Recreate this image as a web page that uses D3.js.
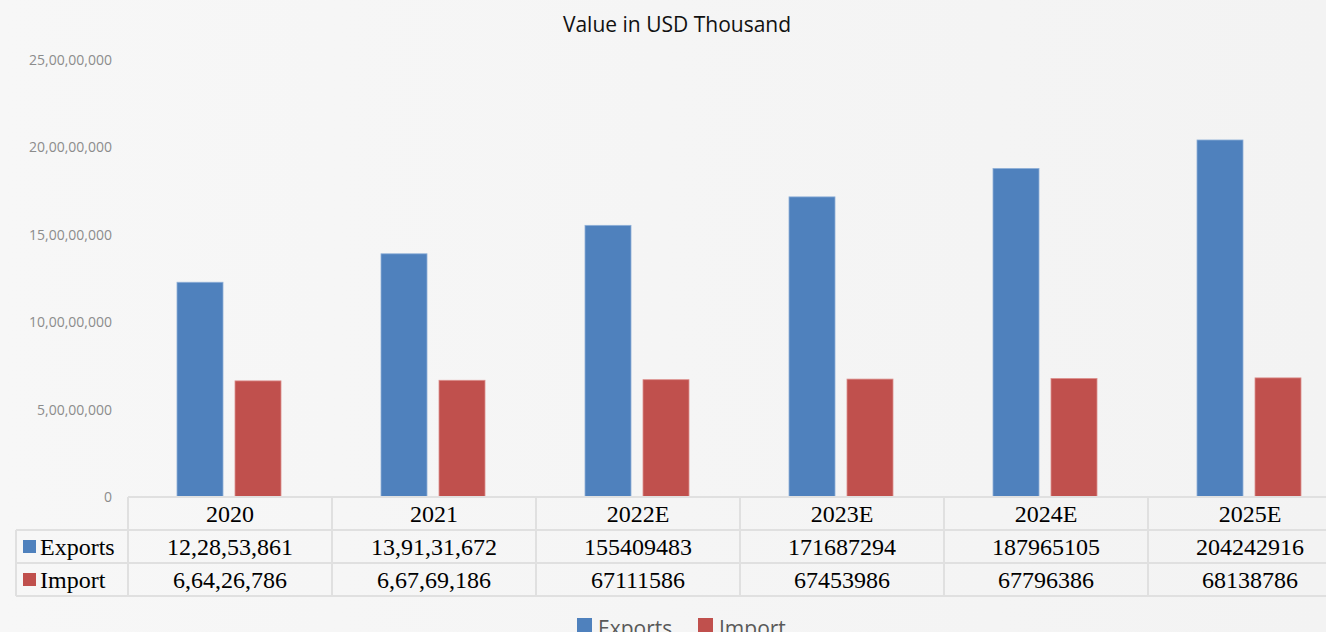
<!DOCTYPE html>
<html>
<head>
	<meta charset="utf-8">
	<title>Value in USD Thousand</title>
	<script src="https://d3js.org/d3.v7.min.js"></script>
	<style>
		html, body { margin: 0; padding: 0; overflow: hidden; }
	</style>
</head>
<body>
	<div class="chart"></div>

	<script type="text/javascript">
		var categories = ['2020', '2021', '2022E', '2023E', '2024E', '2025E']
		var exportsData = [122853861, 139131672, 155409483, 171687294, 187965105, 204242916]
		var importData = [66426786, 66769186, 67111586, 67453986, 67796386, 68138786]
		var seriesNames = ['Exports', 'Import']
		var yTicks = [0, 50000000, 100000000, 150000000, 200000000, 250000000]

		var colors = ['#4f81bd', '#c0504d']
		var width = 1326
		var height = 632

		// indian grouping: 12,28,53,861
		function indian(n) {
			var s = String(Math.round(n))
			if (s.length <= 3) return s
			var last = s.slice(-3)
			var rest = s.slice(0, -3)
			rest = rest.replace(/\B(?=(\d{2})+(?!\d))/g, ',')
			return rest + ',' + last
		}
		// actual years shown grouped, estimates shown raw
		function cellText(v, cat) {
			return cat.indexOf('E') >= 0 ? String(v) : indian(v)
		}

		var svg = d3.select('.chart')
			.append('svg')
			.attr('width', width)
			.attr('height', height)

		var grad = svg.append('defs').append('linearGradient')
			.attr('id', 'bg').attr('x1', 0).attr('x2', 1).attr('y1', 0).attr('y2', 0)
		grad.append('stop').attr('offset', 0).attr('stop-color', '#f7f7f7')
		grad.append('stop').attr('offset', 1).attr('stop-color', '#f3f3f3')
		svg.append('rect').attr('width', width).attr('height', height).attr('fill', 'url(#bg)')

		// title
		svg.append('text')
			.attr('x', 677)
			.attr('y', 32)
			.attr('text-anchor', 'middle')
			.style('font-family', '"Open Sans", "Noto Sans", sans-serif')
			.style('font-size', '21px')
			.style('fill', '#111')
			.text('Value in USD Thousand')

		var plotLeft = 128
		var colW = 204
		var plotRight = plotLeft + colW * categories.length
		var baseY = 497

		var xScale = d3.scaleBand()
			.domain(categories)
			.range([plotLeft, plotRight])

		var yScale = d3.scaleLinear()
			.domain([0, 250000000])
			.range([baseY, 60])

		// y axis labels only
		var yAxis = d3.axisLeft(yScale)
			.tickValues(yTicks)
			.tickFormat(indian)
			.tickSize(0)
			.tickPadding(0)
		var yg = svg.append('g')
			.attr('transform', 'translate(112, 0)')
			.call(yAxis)
		yg.select('.domain').remove()
		yg.selectAll('text')
			.style('font-family', '"Open Sans", "Noto Sans", sans-serif')
			.style('font-size', '14px')
			.style('fill', '#8c8c8c')

		// bars
		var series = [exportsData, importData]
		var offsets = [-53, 5]
		var barW = 46
		series.forEach(function (vals, si) {
			svg.append('g')
				.selectAll('rect')
				.data(vals)
				.enter()
				.append('rect')
				.attr('x', function (d, i) { return xScale(categories[i]) + colW / 2 + offsets[si] })
				.attr('y', function (d) { return yScale(d) })
				.attr('width', barW)
				.attr('height', function (d) { return baseY - yScale(d) })
				.attr('fill', colors[si])
				.attr('stroke', si === 0 ? '#8fb0d8' : '#dc8f8d')
				.attr('stroke-width', 0.8)
		})

		// data table
		var rowTops = [497, 530, 563, 596]
		var tableLeft = 16
		var lineColor = '#e0e0e0'
		var tbl = svg.append('g')
			.attr('stroke', lineColor)
			.attr('stroke-width', 2)
			.attr('fill', 'none')

		// horizontal lines
		tbl.append('line').attr('x1', plotLeft).attr('x2', plotRight).attr('y1', rowTops[0]).attr('y2', rowTops[0])
		rowTops.slice(1).forEach(function (y) {
			tbl.append('line').attr('x1', tableLeft).attr('x2', plotRight).attr('y1', y).attr('y2', y)
		})
		// vertical lines
		tbl.append('line').attr('x1', tableLeft).attr('x2', tableLeft).attr('y1', rowTops[1]).attr('y2', rowTops[3])
		categories.forEach(function (c) {
			var x = xScale(c)
			tbl.append('line').attr('x1', x).attr('x2', x).attr('y1', rowTops[0]).attr('y2', rowTops[3])
		})

		var serif = '"Liberation Serif", "Times New Roman", serif'
		// header row
		svg.append('g').selectAll('text')
			.data(categories)
			.enter()
			.append('text')
			.attr('x', function (d) { return xScale(d) + colW / 2 })
			.attr('y', 522)
			.attr('text-anchor', 'middle')
			.style('font-family', serif)
			.style('font-size', '24px')
			.style('fill', '#000')
			.text(function (d) { return d })

		series.forEach(function (vals, si) {
			var y = rowTops[si + 1] + 25
			// legend key in table
			svg.append('rect')
				.attr('x', 23)
				.attr('y', rowTops[si + 1] + 10)
				.attr('width', 13)
				.attr('height', 13)
				.attr('fill', colors[si])
			svg.append('text')
				.attr('x', 40)
				.attr('y', y)
				.style('font-family', serif)
				.style('font-size', '24px')
				.style('fill', '#000')
				.text(seriesNames[si])
			svg.append('g').selectAll('text')
				.data(vals)
				.enter()
				.append('text')
				.attr('x', function (d, i) { return xScale(categories[i]) + colW / 2 })
				.attr('y', y)
				.attr('text-anchor', 'middle')
				.style('font-family', serif)
				.style('font-size', '24px')
				.style('fill', '#000')
				.text(function (d, i) { return cellText(d, categories[i]) })
		})

		// legend at bottom (cut by the lower edge, as in the source)
		var legendX = [577, 698]
		seriesNames.forEach(function (name, si) {
			svg.append('rect')
				.attr('x', legendX[si])
				.attr('y', 618)
				.attr('width', 15)
				.attr('height', 15)
				.attr('fill', colors[si])
			svg.append('text')
				.attr('x', legendX[si] + 21)
				.attr('y', 636)
				.style('font-family', '"Open Sans", "Noto Sans", sans-serif')
				.style('font-size', '21px')
				.style('fill', '#595959')
				.text(name)
		})
	</script>
</body>
</html>
